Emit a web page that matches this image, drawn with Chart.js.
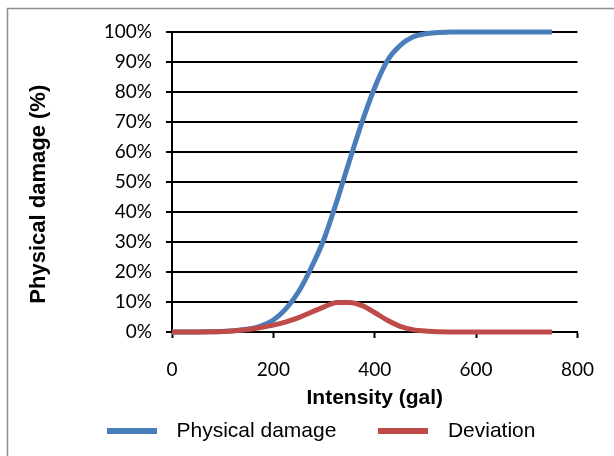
<!DOCTYPE html>
<html>
<head>
<meta charset="utf-8">
<title>Physical damage vs intensity</title>
<script src="https://cdn.jsdelivr.net/npm/chart.js@4.4.1/dist/chart.umd.min.js"></script>
<style>
  html, body { margin: 0; padding: 0; background: #fff; }
</style>
</head>
<body>
<canvas id="damageChart" width="614" height="456"></canvas>
<script>
// values (intensity in gal, values in %)
const intensity = [0, 25, 50, 75, 100, 125, 150, 175, 200, 225, 250, 275, 300, 325, 350, 375,
  400, 425, 450, 475, 500, 525, 550, 575, 600, 625, 650, 675, 700, 725, 750];
const physicalDamage = [0, 0, 0, 0.05, 0.2, 0.5, 1.0, 2.0, 4.0, 7.8, 13.5, 21.5, 31, 43.5, 57, 70,
  81.5, 90.5, 95.5, 98.3, 99.4, 99.8, 100, 100, 100, 100, 100, 100, 100, 100, 100];
const deviation = [0, 0, 0, 0.05, 0.2, 0.45, 0.85, 1.5, 2.3, 3.4, 4.8, 6.6, 8.4, 9.85, 9.85, 8.8,
  6.5, 3.9, 1.9, 0.8, 0.3, 0.1, 0.03, 0, 0, 0, 0, 0, 0, 0, 0];

const xTicks = [0, 200, 400, 600, 800];
const yTicks = [0, 10, 20, 30, 40, 50, 60, 70, 80, 90, 100];

const blue = '#4A7EBB';
const red = '#BE4B48';

const tickFont = { family: 'Lato', size: 19 };
const titleFont = { family: 'Liberation Sans', size: 21, weight: 'bold' };

function toPoints(ys) {
  return intensity.map((x, i) => ({ x: x, y: ys[i] }));
}

// short thick bar used as legend swatch (Excel style)
function swatch(color) {
  const c = document.createElement('canvas');
  c.width = 50;
  c.height = 6;
  const g = c.getContext('2d');
  g.fillStyle = color;
  g.fillRect(0, 0, 50, 6);
  return c;
}

const frame = {
  id: 'frame',
  beforeDraw(chart) {
    const ctx = chart.ctx;
    ctx.save();
    ctx.fillStyle = '#fff';
    ctx.fillRect(0, 0, chart.width, chart.height);
    ctx.strokeStyle = '#8c8c8c';
    ctx.lineWidth = 1.5;
    ctx.beginPath();
    ctx.moveTo(7.5, chart.height + 5);
    ctx.lineTo(7.5, 8.5);
    ctx.lineTo(chart.width + 5, 8.5);
    ctx.stroke();
    ctx.restore();
  },
  afterLayout(chart) {
    // legend sits a bit right of centre and just under the axis title
    const legend = chart.legend;
    legend.left += 17.7;
    legend.right += 17.7;
    legend.top -= 24.5;
    legend.bottom = chart.height;
  }
};

const ctx = document.getElementById('damageChart').getContext('2d');
const damageChart = new Chart(ctx, {
  type: 'line',
  data: {
    datasets: [
      {
        label: 'Deviation',
        data: toPoints(deviation),
        borderColor: red,
        backgroundColor: red,
        borderWidth: 5,
        pointRadius: 0,
        pointStyle: swatch(red),
        cubicInterpolationMode: 'monotone',
        clip: false
      },
      {
        label: 'Physical damage',
        data: toPoints(physicalDamage),
        borderColor: blue,
        backgroundColor: blue,
        borderWidth: 5,
        pointRadius: 0,
        pointStyle: swatch(blue),
        cubicInterpolationMode: 'monotone',
        clip: false
      }
    ]
  },
  options: {
    responsive: false,
    animation: false,
    layout: { padding: { left: 20, right: 36, top: 32, bottom: 0 } },
    plugins: {
      tooltip: { enabled: false },
      legend: {
        position: 'bottom',
        reverse: true,
        maxHeight: 44,
        labels: {
          usePointStyle: true,
          pointStyleWidth: 68,
          padding: 33,
          color: '#000',
          font: { family: 'Liberation Sans', size: 21 }
        }
      }
    },
    scales: {
      x: {
        type: 'linear',
        min: 0,
        max: 800,
        afterBuildTicks: axis => { axis.ticks = xTicks.map(v => ({ value: v })); },
        afterFit: axis => { axis.height = 80; },
        grid: { drawOnChartArea: false, drawTicks: true, tickLength: 6, tickColor: '#000', tickWidth: 2 },
        border: { color: '#000', width: 2 },
        ticks: { color: '#000', font: tickFont, padding: 20, maxRotation: 0 },
        title: {
          display: true,
          text: 'Intensity (gal)',
          color: '#000',
          font: titleFont,
          padding: { top: 0, bottom: 1 }
        }
      },
      y: {
        min: 0,
        max: 100,
        afterBuildTicks: axis => { axis.ticks = yTicks.map(v => ({ value: v })); },
        afterFit: axis => { axis.width = 152; },
        grid: { color: '#000', lineWidth: 2, tickLength: 6, tickColor: '#000' },
        border: { color: '#000', width: 2 },
        ticks: { color: '#000', font: tickFont, padding: 14, callback: v => v + '%' },
        title: {
          display: true,
          text: 'Physical damage (%)\u00a0\u00a0\u00a0\u00a0',
          color: '#000',
          font: { family: 'Liberation Sans', size: 22, weight: 'bold' },
          padding: { top: 6, bottom: 0 }
        }
      }
    }
  },
  plugins: [frame]
});
</script>
</body>
</html>
